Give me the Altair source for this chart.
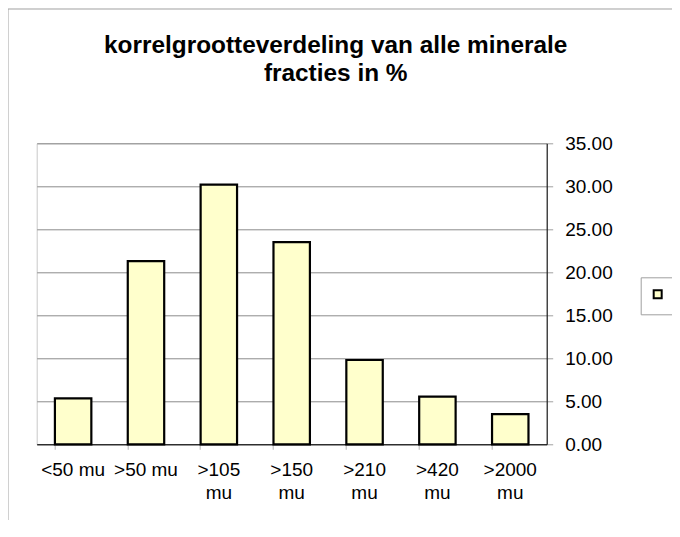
import altair as alt
import pandas as pd

categories = ["<50 mu", ">50 mu", ">105 mu", ">150 mu", ">210 mu", ">420 mu", ">2000 mu"]
values = [5.35, 21.3, 30.2, 23.5, 9.8, 5.55, 3.5]
y_ticks = [0, 5, 10, 15, 20, 25, 30, 35]
title_lines = ["korrelgrootteverdeling van alle minerale", "fracties in %"]

df = pd.DataFrame({"cat": categories, "val": values, "series": ["s"] * len(categories)})

FONT = "Liberation Sans"

bars = alt.Chart(df).mark_bar(stroke="black", strokeWidth=2.2).encode(
    x=alt.X(
        "cat:N",
        sort=categories,
        scale=alt.Scale(paddingInner=0.5, paddingOuter=0.25),
        axis=alt.Axis(
            title=None,
            orient="bottom",
            labelAngle=0,
            bandPosition=0,
            domainColor="black",
            domainWidth=1,
            tickColor="#b4b4b4",
            tickSize=5,
            labelFontSize=19,
            labelFont=FONT,
            labelColor="black",
            labelPadding=11,
            labelLineHeight=23,
            labelOverlap=False,
            labelLimit=0,
            grid=False,
            labelExpr="datum.label == '<50 mu' || datum.label == '>50 mu' ? datum.label : split(datum.label, ' ')",
        ),
    ),
    y=alt.Y(
        "val:Q",
        scale=alt.Scale(domain=[0, 35], nice=False),
        axis=alt.Axis(
            title=None,
            orient="right",
            values=y_ticks,
            format=".2f",
            domainColor="black",
            domainWidth=1,
            tickColor="#a0a0a0",
            tickSize=6,
            labelFontSize=19,
            labelFont=FONT,
            labelColor="black",
            labelPadding=12,
            gridColor="#8c8c8c",
            gridWidth=1,
        ),
    ),
    color=alt.Color(
        "series:N",
        scale=alt.Scale(range=["#FFFFCC"]),
        legend=alt.Legend(
            title=None,
            orient="none",
            legendX=604,
            legendY=134,
            padding=12,
            strokeColor="#a0a0a0",
            fillColor="white",
            symbolType="square",
            symbolSize=64,
            symbolStrokeColor="black",
            symbolStrokeWidth=2,
            symbolFillColor="#FFFFCC",
            labelExpr="''",
            labelFontSize=9,
            labelOffset=0,
        ),
    ),
)

dummy = pd.DataFrame({"a": [0]})
frame_top = alt.Chart(dummy).mark_rule(stroke="#a0a0a0", strokeWidth=1).encode(
    x=alt.value(-28.7), x2=alt.value(700), y=alt.value(-134.3)
)
frame_left = alt.Chart(dummy).mark_rule(stroke="#a0a0a0", strokeWidth=1).encode(
    x=alt.value(-28.7), y=alt.value(-134.3), y2=alt.value(700)
)

chart = alt.layer(frame_top, frame_left, bars).properties(
    width=510,
    height=301,
    autosize=alt.AutoSizeParams(type="none"),
    padding={"left": 28.7, "top": 135.3, "right": 125, "bottom": 76},
    title=alt.TitleParams(
        text=title_lines,
        font=FONT,
        fontSize=24.4,
        fontWeight="bold",
        color="black",
        anchor="middle",
        dx=44,
        dy=78,
        lineHeight=28,
        offset=0,
    ),
).configure_view(stroke="#c8c8c8", strokeWidth=1)

chart.save("out.html", embed_options={"renderer": "svg", "actions": False})
